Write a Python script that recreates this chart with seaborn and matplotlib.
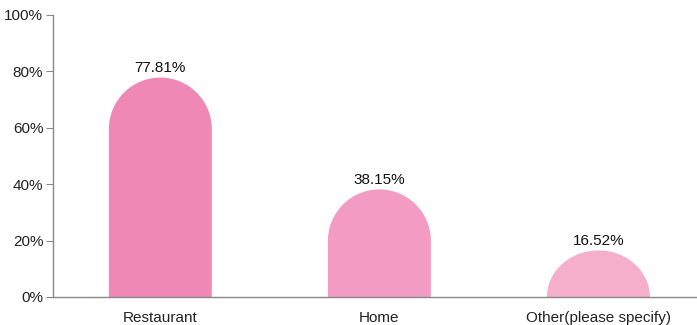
import matplotlib
matplotlib.use("Agg")
import matplotlib.pyplot as plt
import seaborn as sns
import pandas as pd
import numpy as np
from matplotlib.path import Path
from matplotlib.patches import PathPatch
from matplotlib.ticker import FuncFormatter

categories = ["Restaurant", "Home", "Other(please specify)"]
values = [77.81, 38.15, 16.52]
colors = ["#F088B6", "#F39BC2", "#F6AFCB"]
yticks = [0, 20, 40, 60, 80, 100]

sns.set_theme(style="white")
plt.rcParams["font.family"] = ["Liberation Sans", "DejaVu Sans"]

df = pd.DataFrame({"category": categories, "value": values})

fig = plt.figure(figsize=(6.97, 3.25), dpi=100)
ax = fig.add_axes([53 / 697, (325 - 297) / 325, (697 - 53) / 697, (297 - 15) / 325])

sns.barplot(data=df, x="category", y="value", hue="category", palette=colors,
            width=0.47, legend=False, ax=ax, saturation=1)

ax.set_xlim(-0.49, 2.45)
ax.set_ylim(0, 100)

# pixel scale of each data unit, used to make the caps circular on screen
fig.canvas.draw()
p0 = ax.transData.transform((0, 0))
p1 = ax.transData.transform((1, 1))
px_x = p1[0] - p0[0]
px_y = p1[1] - p0[1]

k = 0.5523  # bezier circle constant
for patch, col in zip(list(ax.patches), colors):
    x0 = patch.get_x()
    w = patch.get_width()
    h = patch.get_height()
    patch.set_visible(False)
    rx = w / 2
    ry = rx * px_x / px_y
    if h < ry:
        ry = h
    xc = x0 + rx
    ys = h - ry  # where the straight sides end
    verts = [
        (x0, 0), (x0, ys),
        (x0, ys + k * ry), (xc - k * rx, h), (xc, h),
        (xc + k * rx, h), (x0 + w, ys + k * ry), (x0 + w, ys),
        (x0 + w, 0), (x0, 0),
    ]
    codes = [Path.MOVETO, Path.LINETO,
             Path.CURVE4, Path.CURVE4, Path.CURVE4,
             Path.CURVE4, Path.CURVE4, Path.CURVE4,
             Path.LINETO, Path.CLOSEPOLY]
    ax.add_patch(PathPatch(Path(verts, codes), facecolor=col, edgecolor="none", zorder=2))
    ax.annotate(f"{h:.2f}%", (xc, h), xytext=(0, 2), textcoords="offset points",
                ha="center", va="bottom", fontsize=11, color="#111111")

ax.set_yticks(yticks)
ax.yaxis.set_major_formatter(FuncFormatter(lambda v, _: f"{v:.0f}%"))
ax.set_xlabel("")
ax.set_ylabel("")

for side in ["top", "right"]:
    ax.spines[side].set_visible(False)
for side in ["left", "bottom"]:
    ax.spines[side].set_color("#888888")
    ax.spines[side].set_linewidth(1.0)

ax.tick_params(axis="y", which="major", left=True, length=5, width=0.8,
               color="#888888", labelsize=11, labelcolor="#222222", pad=2)
ax.tick_params(axis="x", bottom=False, labelsize=11, labelcolor="#222222", pad=4)

fig.savefig("out.png", dpi=100)
